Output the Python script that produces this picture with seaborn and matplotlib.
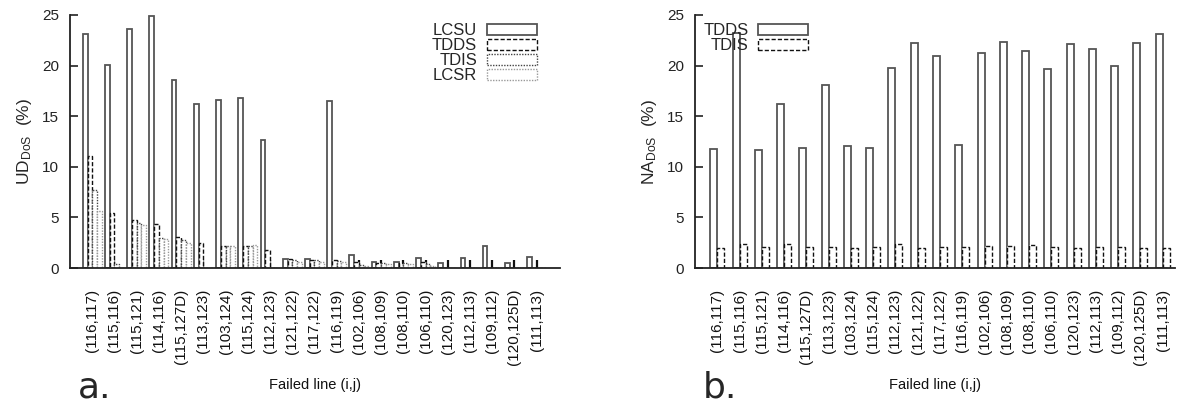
import matplotlib
matplotlib.use("Agg")
import matplotlib.pyplot as plt
from matplotlib.patches import Patch
import pandas as pd
import seaborn as sns

# Failed transmission lines (shared by both panels)
lines = ["(116,117)", "(115,116)", "(115,121)", "(114,116)", "(115,127D)",
         "(113,123)", "(103,124)", "(115,124)", "(112,123)", "(121,122)",
         "(117,122)", "(116,119)", "(102,106)", "(108,109)", "(108,110)",
         "(106,110)", "(120,123)", "(112,113)", "(109,112)", "(120,125D)",
         "(111,113)"]

# Panel a: unserved demand under DoS (%)
ud_lcsu = [23.1, 20.1, 23.6, 24.9, 18.6, 16.2, 16.6, 16.8, 12.6, 0.9,
           0.85, 16.5, 1.3, 0.55, 0.55, 1.0, 0.5, 0.95, 2.2, 0.45, 1.05]
ud_tdds = [11.1, 5.4, 4.7, 4.3, 3.1, 2.5, 2.2, 2.2, 1.8, 0.85,
           0.8, 0.75, 0.6, 0.5, 0.5, 0.6, 0.0, 0.0, 0.0, 0.0, 0.0]
ud_tdis = [7.7, 0.4, 4.4, 3.0, 2.8, 0.0, 2.2, 2.2, 0.0, 0.75,
           0.75, 0.7, 0.3, 0.45, 0.45, 0.35, 0.0, 0.0, 0.0, 0.0, 0.0]
ud_lcsr = [5.6, 0.0, 4.2, 2.9, 2.5, 0.0, 2.2, 2.3, 0.0, 0.6,
           0.6, 0.6, 0.15, 0.35, 0.35, 0.2, 0.0, 0.0, 0.0, 0.0, 0.0]

# Panel b: nodes affected under DoS (%)
na_tdds = [11.8, 23.2, 11.7, 16.2, 11.9, 18.1, 12.1, 11.9, 19.8, 22.2,
           20.9, 12.2, 21.2, 22.3, 21.4, 19.7, 22.1, 21.6, 20.0, 22.2, 23.1]
na_tdis = [2.0, 2.35, 2.1, 2.35, 2.1, 2.1, 2.0, 2.05, 2.35, 2.0,
           2.1, 2.1, 2.2, 2.2, 2.3, 2.1, 2.0, 2.05, 2.05, 2.0, 2.0]

series_a = ["LCSU", "TDDS", "TDIS", "LCSR"]
series_b = ["TDDS", "TDIS"]

styles_a = {
    "LCSU": dict(edgecolor="#555555", linestyle="-", linewidth=1.3),
    "TDDS": dict(edgecolor="#111111", linestyle=(0, (3, 1.5)), linewidth=1.0),
    "TDIS": dict(edgecolor="#444444", linestyle=(0, (1, 1)), linewidth=1.0),
    "LCSR": dict(edgecolor="#999999", linestyle=(0, (1, 1)), linewidth=1.0),
}
styles_b = {
    "TDDS": dict(edgecolor="#555555", linestyle="-", linewidth=1.3),
    "TDIS": dict(edgecolor="#111111", linestyle=(0, (3, 1.5)), linewidth=1.0),
}

df_a = pd.DataFrame({
    "line": lines * 4,
    "series": [s for s in series_a for _ in lines],
    "value": ud_lcsu + ud_tdds + ud_tdis + ud_lcsr,
})
df_b = pd.DataFrame({
    "line": lines * 2,
    "series": [s for s in series_b for _ in lines],
    "value": na_tdds + na_tdis,
})

sns.set_style("ticks")
plt.rcParams["font.family"] = ["Liberation Sans", "DejaVu Sans"]
plt.rcParams["mathtext.default"] = "regular"

fig = plt.figure(figsize=(11.8, 4.05), dpi=100)
ax_a = fig.add_axes([70 / 1180, 1 - 268 / 405, 490 / 1180, 253 / 405])
ax_b = fig.add_axes([695 / 1180, 1 - 268 / 405, 480 / 1180, 253 / 405])


def draw_panel(ax, df, order, styles, width, xmax, ylabel):
    sns.barplot(data=df, x="line", y="value", hue="series", order=lines,
                hue_order=order, palette=["white"] * len(order), width=width,
                saturation=1, errorbar=None, legend=False, ax=ax)
    for cont, name in zip(ax.containers, order):
        for p in cont.patches:
            p.set_facecolor("white")
            p.set(**styles[name])
    ax.set_xlim(-1.0, xmax)
    ax.set_ylim(0, 25)
    ax.set_yticks([0, 5, 10, 15, 20, 25])
    ax.set_xlabel("")
    ax.set_ylabel(ylabel, fontsize=12.5, labelpad=6)
    ax.tick_params(axis="y", direction="in", length=6, width=1.2,
                   labelsize=11, pad=8, colors="#222222")
    ax.tick_params(axis="x", direction="in", length=6, width=1.6,
                   labelsize=11, pad=15, labelrotation=90, colors="#111111")
    for side in ("top", "right"):
        ax.spines[side].set_visible(False)
    for side in ("left", "bottom"):
        ax.spines[side].set_linewidth(1.3)
        ax.spines[side].set_color("#222222")
    handles = [Patch(facecolor="white", label=n, **styles[n]) for n in order]
    return handles


h_a = draw_panel(ax_a, df_a, series_a, styles_a, 0.85, 21.05,
                 r"UD$_{DoS}$  (%)")
h_b = draw_panel(ax_b, df_b, series_b, styles_b, 0.63, 20.55,
                 r"NA$_{DoS}$  (%)")

leg_font = {"family": ["Liberation Sans Narrow", "Liberation Sans"], "size": 12}
ax_a.legend(handles=h_a, loc="upper right", bbox_to_anchor=(0.97, 1.0),
            frameon=False, markerfirst=False, handlelength=3.0,
            handleheight=0.6, handletextpad=0.6, labelspacing=0.0,
            borderpad=0.0, prop=leg_font)
ax_b.legend(handles=h_b, loc="upper left", bbox_to_anchor=(0.0, 1.0),
            frameon=False, markerfirst=False, handlelength=3.0,
            handleheight=0.6, handletextpad=0.6, labelspacing=0.0,
            borderpad=0.0, prop=leg_font)

for ax in (ax_a, ax_b):
    pos = ax.get_position()
    fig.text(pos.x0 + pos.width / 2, 1 - 385 / 405, "Failed line (i,j)",
             ha="center", va="center", fontsize=10.5, color="#111111")

fig.text(78 / 1180, 1 - 397 / 405, "a.", fontsize=26,
         family="DejaVu Sans", va="baseline", ha="left")
fig.text(703 / 1180, 1 - 397 / 405, "b.", fontsize=26,
         family="DejaVu Sans", va="baseline", ha="left")

fig.savefig("out.png", dpi=100, facecolor="white")
